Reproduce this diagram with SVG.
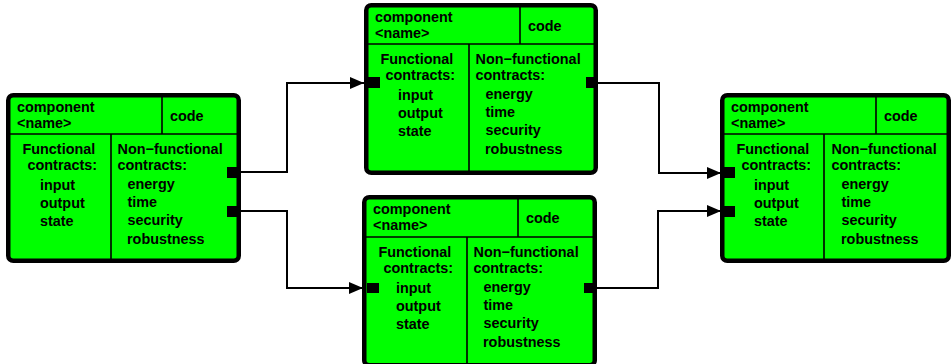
<svg xmlns="http://www.w3.org/2000/svg" width="952" height="364" viewBox="0 0 952 364">
<style>
.box{fill:#00ff00;stroke:#000;stroke-width:4.5}
.div{stroke:#000;stroke-width:1.6;fill:none}
.port{fill:#000}
text{font-family:"Liberation Sans",Arial,Helvetica,sans-serif;font-weight:bold;font-size:14.4px;fill:#000}
.conn{fill:none;stroke:#000;stroke-width:2}
</style>
<defs>
<marker id="arr" markerUnits="userSpaceOnUse" markerWidth="14" markerHeight="12" refX="14" refY="6" orient="auto">
<path d="M0,0 L14,6 L0,12 z" fill="#000"/>
</marker>
</defs>
<g id="connectors">
<path class="conn" d="M239,172 H287 V83 H364" marker-end="url(#arr)"/>
<path class="conn" d="M239,211 H287 V288 H363" marker-end="url(#arr)"/>
<path class="conn" d="M597,83 H659 V173 H721" marker-end="url(#arr)"/>
<path class="conn" d="M596,288 H658 V211 H721" marker-end="url(#arr)"/>
</g>
<g id="node1" transform="translate(6,93)">
<rect class="box" x="2.25" y="2.25" width="230.5" height="165.5" rx="5"/>
<line class="div" x1="4" y1="41" x2="231" y2="41"/>
<line class="div" x1="156" y1="4" x2="156" y2="41"/>
<line class="div" x1="105" y1="41" x2="105" y2="166"/>
<text x="11" y="19">component</text><text x="11" y="35">&lt;name&gt;</text><text x="164" y="28">code</text>
<text x="16.5" y="61">Functional</text><text x="21.5" y="77">contracts:</text>
<text x="34" y="97">input</text><text x="34" y="115">output</text><text x="34" y="133">state</text>
<text x="111.5" y="61">Non−functional</text><text x="111.5" y="77">contracts:</text>
<text x="121.5" y="96">energy</text><text x="121.5" y="114">time</text><text x="121.5" y="132">security</text><text x="121" y="151">robustness</text>
<rect class="port" x="221" y="74" width="12" height="11"/>
<rect class="port" x="221" y="113" width="12" height="11"/>
</g>
<g id="node2" transform="translate(364,3)">
<rect class="box" x="2.25" y="2.25" width="229.5" height="167.5" rx="5"/>
<line class="div" x1="4" y1="41" x2="230" y2="41"/>
<line class="div" x1="156" y1="4" x2="156" y2="41"/>
<line class="div" x1="105" y1="41" x2="105" y2="168"/>
<text x="11" y="19">component</text><text x="11" y="35">&lt;name&gt;</text><text x="164" y="28">code</text>
<text x="16.5" y="61">Functional</text><text x="21.5" y="77">contracts:</text>
<text x="34" y="97">input</text><text x="34" y="115">output</text><text x="34" y="133">state</text>
<text x="111.5" y="61">Non−functional</text><text x="111.5" y="77">contracts:</text>
<text x="121.5" y="96">energy</text><text x="121.5" y="114">time</text><text x="121.5" y="132">security</text><text x="121" y="151">robustness</text>
<rect class="port" x="4" y="74" width="12" height="11"/>
<rect class="port" x="222" y="74" width="12" height="11"/>
</g>
<g id="node3" transform="translate(362,195)">
<rect class="box" x="2.25" y="2.25" width="230.5" height="168" rx="5"/>
<line class="div" x1="4" y1="42" x2="231" y2="42"/>
<line class="div" x1="156" y1="4" x2="156" y2="42"/>
<line class="div" x1="105" y1="42" x2="105" y2="169"/>
<text x="11" y="19">component</text><text x="11" y="35">&lt;name&gt;</text><text x="164" y="28">code</text>
<text x="16.5" y="62">Functional</text><text x="21.5" y="78">contracts:</text>
<text x="34" y="98">input</text><text x="34" y="116">output</text><text x="34" y="134">state</text>
<text x="111.5" y="62">Non−functional</text><text x="111.5" y="78">contracts:</text>
<text x="121.5" y="97">energy</text><text x="121.5" y="115">time</text><text x="121.5" y="133">security</text><text x="121" y="152">robustness</text>
<rect class="port" x="5" y="88" width="12" height="10"/>
<rect class="port" x="222" y="88" width="12" height="10"/>
</g>
<g id="node4" transform="translate(720,93)">
<rect class="box" x="2.25" y="2.25" width="226.5" height="165.5" rx="5"/>
<line class="div" x1="4" y1="41" x2="227" y2="41"/>
<line class="div" x1="156" y1="4" x2="156" y2="41"/>
<line class="div" x1="104" y1="41" x2="104" y2="166"/>
<text x="11" y="19">component</text><text x="11" y="35">&lt;name&gt;</text><text x="164" y="28">code</text>
<text x="16.5" y="61">Functional</text><text x="21.5" y="77">contracts:</text>
<text x="34" y="97">input</text><text x="34" y="115">output</text><text x="34" y="133">state</text>
<text x="111.5" y="61">Non−functional</text><text x="111.5" y="77">contracts:</text>
<text x="121.5" y="96">energy</text><text x="121.5" y="114">time</text><text x="121.5" y="132">security</text><text x="121" y="151">robustness</text>
<rect class="port" x="3" y="74" width="12" height="11"/>
<rect class="port" x="3" y="113" width="12" height="11"/>
</g>
</svg>
